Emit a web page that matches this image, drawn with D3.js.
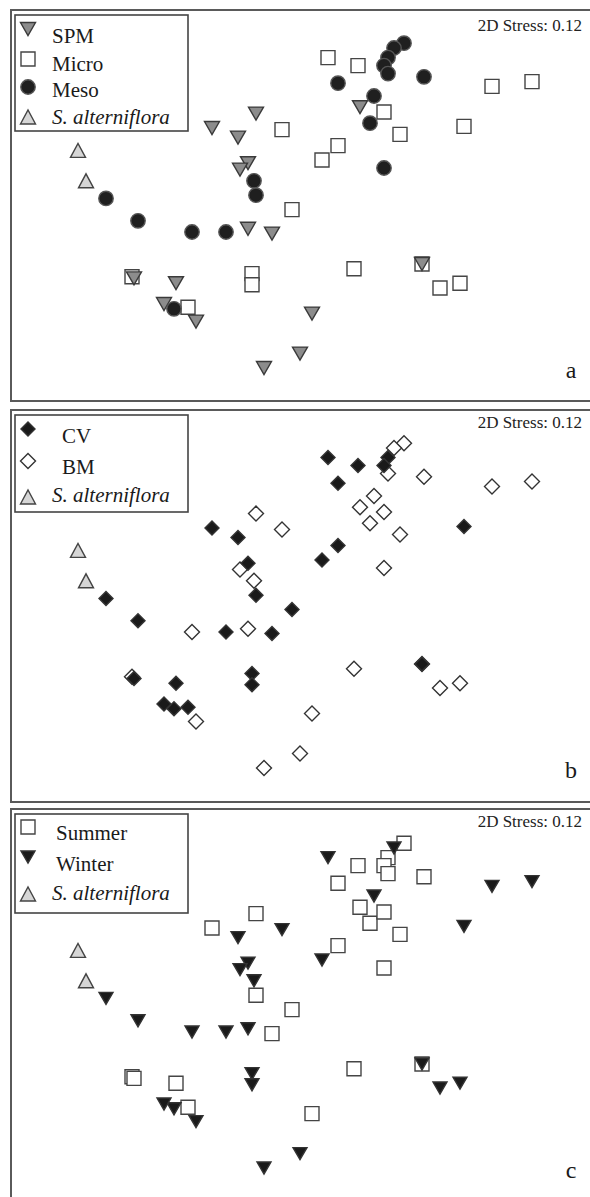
<!DOCTYPE html>
<html>
<head>
<meta charset="utf-8">
<script src="https://cdn.jsdelivr.net/npm/d3@7.9.0/dist/d3.min.js"></script>
<style>
  body { margin: 0; background: #fff; }
  svg { display: block; font-family: "Liberation Serif", "Times New Roman", serif; }
</style>
</head>
<body>
<svg id="chart" width="590" height="1197"></svg>
<script>
// NMDS axis 1 / axis 2 of the 52 samples (same ordination in all three panels)
const nmds1 = [
  0.52, 0.47, 0.44, 0.42, 0.44, 0.62, 0.19, 0.37, 0.35, 0.42, -0.23, -0.22, -0.97, -0.81, -0.54, -0.37, -0.63,
  0.14, 0.29, 0.96, 1.16, -0.09, 0.42, 0.50, 0.82, 0.19, 0.11, -0.04, -0.84, -0.24, -0.24, -0.56, 0.27, 0.61, 0.70, 0.80,
  -0.22, -0.44, -0.31, -0.26, -0.30, 0.30, -0.26, -0.14, -0.83, -0.62, -0.68, -0.52, -0.18, 0.00, 0.06, 0.61
];
const nmds2 = [
  0.98, 0.95, 0.89, 0.84, 0.79, 0.77, 0.73, 0.65, 0.48, 0.20, 0.12, 0.03, 0.01, -0.13, -0.20, -0.20, -0.68,
  0.89, 0.84, 0.71, 0.74, 0.44, 0.55, 0.41, 0.46, 0.34, 0.25, -0.06, -0.48, -0.46, -0.53, -0.67, -0.43, -0.40, -0.55, -0.52,
  0.54, 0.45, 0.39, 0.23, 0.19, 0.58, -0.18, -0.21, -0.49, -0.52, -0.65, -0.76, -1.05, -0.96, -0.71, -0.40
];

// panel a: size fraction
const sizeFraction = [
  "Meso", "Meso", "Meso", "Meso", "Meso", "Meso", "Meso", "Meso", "Meso", "Meso", "Meso", "Meso", "Meso", "Meso", "Meso", "Meso", "Meso",
  "Micro", "Micro", "Micro", "Micro", "Micro", "Micro", "Micro", "Micro", "Micro", "Micro", "Micro", "Micro", "Micro", "Micro", "Micro", "Micro", "Micro", "Micro", "Micro",
  "SPM", "SPM", "SPM", "SPM", "SPM", "SPM", "SPM", "SPM", "SPM", "SPM", "SPM", "SPM", "SPM", "SPM", "SPM", "SPM"
];
// panel b: sampling site
const site = [
  "BM", "BM", "CV", "CV", "BM", "BM", "CV", "BM", "BM", "BM", "BM", "CV", "CV", "CV", "BM", "CV", "CV",
  "CV", "CV", "BM", "BM", "BM", "BM", "BM", "CV", "CV", "CV", "CV", "BM", "CV", "CV", "CV", "BM", "BM", "BM", "BM",
  "BM", "CV", "CV", "CV", "BM", "BM", "BM", "CV", "CV", "CV", "CV", "BM", "BM", "BM", "BM", "CV"
];
// panel c: season
const season = [
  "Summer", "Winter", "Summer", "Summer", "Summer", "Summer", "Summer", "Winter", "Summer", "Summer", "Winter", "Summer", "Winter", "Winter", "Winter", "Winter", "Winter",
  "Winter", "Summer", "Winter", "Winter", "Winter", "Summer", "Summer", "Winter", "Summer", "Winter", "Summer", "Summer", "Winter", "Winter", "Summer", "Summer", "Summer", "Winter", "Winter",
  "Summer", "Summer", "Winter", "Winter", "Winter", "Summer", "Winter", "Summer", "Summer", "Summer", "Winter", "Winter", "Winter", "Winter", "Summer", "Winter"
];

// S. alterniflora end-member
const spartina1 = [-1.11, -1.07];
const spartina2 = [0.31, 0.12];

const stressText = "2D Stress: 0.12";

// marker looks
const styles = {
  SPM:    { shape: "down", fill: "#8c8c8c", stroke: "#3a3a3a", w: 15, h: 13 },
  Micro:  { shape: "square", fill: "#fff", stroke: "#454545", s: 14 },
  Meso:   { shape: "circle", fill: "#1f1f1f", stroke: "#555", r: 7.2 },
  CV:     { shape: "diamond", fill: "#1a1a1a", stroke: "#333", r: 7 },
  BM:     { shape: "diamond", fill: "#fff", stroke: "#333", r: 7.5 },
  Summer: { shape: "square", fill: "#fff", stroke: "#454545", s: 14 },
  Winter: { shape: "down", fill: "#1a1a1a", stroke: "#333", w: 14, h: 12 },
  Salt:   { shape: "up", fill: "#d6d6d6", stroke: "#444", w: 15, h: 14 }
};

function markerPath(st) {
  if (st.shape === "down") return `M${-st.w / 2},${-st.h / 2}L${st.w / 2},${-st.h / 2}L0,${st.h / 2}Z`;
  if (st.shape === "up") return `M${-st.w / 2},${st.h / 2}L${st.w / 2},${st.h / 2}L0,${-st.h / 2}Z`;
  if (st.shape === "square") return `M${-st.s / 2},${-st.s / 2}h${st.s}v${st.s}h${-st.s}Z`;
  if (st.shape === "diamond") return `M0,${-st.r}L${st.r},0L0,${st.r}L${-st.r},0Z`;
  return d3.symbol().type(d3.symbolCircle).size(Math.PI * st.r * st.r)();
}

// shared scales (panel-local coordinates)
const x = d3.scaleLinear().domain([-1, 1]).range([100, 500]);
const y = d3.scaleLinear().domain([-1, 1]).range([360, 40]);

const samples = nmds1.map((v, i) => ({ x: v, y: nmds2[i], a: sizeFraction[i], b: site[i], c: season[i] }));
const spartina = spartina1.map((v, i) => ({ x: v, y: spartina2[i] }));

const panels = [
  { key: "a", offset: 0, top: 10, bottom: 401, stressY: 31, drawOrder: ["Micro", "SPM", "Meso"],
    legendBox: [15, 15, 173, 116],
    legend: [
      { g: "SPM", label: "SPM", my: 29, tx: 52, ty: 43 },
      { g: "Micro", label: "Micro", my: 59, tx: 52, ty: 71 },
      { g: "Meso", label: "Meso", my: 87, tx: 52, ty: 97 },
      { g: "Salt", label: "S. alterniflora", my: 117, tx: 52, ty: 124, italic: true }
    ] },
  { key: "b", offset: 400, top: 10, bottom: 402, stressY: 28, drawOrder: ["BM", "CV"],
    legendBox: [15, 15, 173, 97],
    legend: [
      { g: "CV", label: "CV", my: 29, tx: 62, ty: 43 },
      { g: "BM", label: "BM", my: 61, tx: 62, ty: 74 },
      { g: "Salt", label: "S. alterniflora", my: 97, tx: 52, ty: 102, italic: true }
    ] },
  { key: "c", offset: 800, top: 9, bottom: 402, stressY: 27, drawOrder: ["Summer", "Winter"],
    legendBox: [15, 14, 173, 99],
    legend: [
      { g: "Summer", label: "Summer", my: 27, tx: 56, ty: 40 },
      { g: "Winter", label: "Winter", my: 57, tx: 56, ty: 71 },
      { g: "Salt", label: "S. alterniflora", my: 94, tx: 52, ty: 100, italic: true }
    ] }
];

const svg = d3.select("#chart");

panels.forEach((p) => {
  const g = svg.append("g").attr("transform", `translate(0,${p.offset})`);

  // frame (right edge runs off the picture)
  g.append("rect")
    .attr("x", 11).attr("y", p.top)
    .attr("width", 600).attr("height", p.bottom - p.top)
    .attr("fill", "none").attr("stroke", "#5a5a5a").attr("stroke-width", 2);

  // points, group by group
  p.drawOrder.forEach((grp) => {
    const st = styles[grp];
    g.append("g").selectAll("path")
      .data(samples.filter((d) => d[p.key] === grp))
      .join("path")
      .attr("d", markerPath(st))
      .attr("transform", (d) => `translate(${x(d.x)},${y(d.y)})`)
      .attr("fill", st.fill)
      .attr("stroke", st.stroke)
      .attr("stroke-width", 1.4);
  });

  g.append("g").selectAll("path")
    .data(spartina)
    .join("path")
    .attr("d", markerPath(styles.Salt))
    .attr("transform", (d) => `translate(${x(d.x)},${y(d.y)})`)
    .attr("fill", styles.Salt.fill)
    .attr("stroke", styles.Salt.stroke)
    .attr("stroke-width", 1.4);

  // legend
  const lb = p.legendBox;
  g.append("rect")
    .attr("x", lb[0]).attr("y", lb[1]).attr("width", lb[2]).attr("height", lb[3])
    .attr("fill", "#fff").attr("stroke", "#444").attr("stroke-width", 1.6);

  p.legend.forEach((e) => {
    const st = styles[e.g];
    g.append("path")
      .attr("d", markerPath(st))
      .attr("transform", `translate(28,${e.my})`)
      .attr("fill", st.fill).attr("stroke", st.stroke).attr("stroke-width", 1.4);
    g.append("text")
      .attr("x", e.tx).attr("y", e.ty)
      .attr("font-size", 21)
      .attr("font-style", e.italic ? "italic" : "normal")
      .attr("fill", "#1a1a1a")
      .text(e.label);
  });

  g.append("text")
    .attr("x", 582).attr("y", p.stressY)
    .attr("text-anchor", "end")
    .attr("font-size", 17)
    .attr("fill", "#222")
    .text(stressText);

  g.append("text")
    .attr("x", 571).attr("y", 378)
    .attr("text-anchor", "middle")
    .attr("font-size", 24)
    .attr("fill", "#1a1a1a")
    .text(p.key);
});
</script>
</body>
</html>
